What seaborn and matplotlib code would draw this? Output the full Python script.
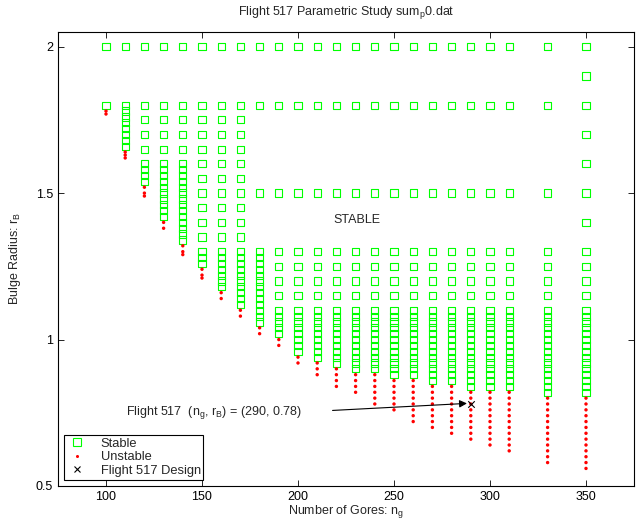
import matplotlib
matplotlib.use("Agg")
import matplotlib.pyplot as plt
import seaborn as sns
import pandas as pd
from matplotlib.lines import Line2D
from matplotlib.ticker import FuncFormatter

# ---------------- data ----------------
gores = [100, 110, 120, 130, 140, 150, 160, 170, 180, 190, 200, 210, 220,
         230, 240, 250, 260, 270, 280, 290, 300, 310, 330, 350]

s100 = [2.0, 1.8]
u100 = [1.78, 1.77]
s110 = [2.0, 1.8, 1.78, 1.76, 1.74, 1.72, 1.70, 1.68, 1.66]
u110 = [1.64, 1.63, 1.62]
s120 = [2.0, 1.8, 1.75, 1.70, 1.65, 1.60, 1.58, 1.56, 1.54]
u120 = [1.52, 1.50, 1.49]
s130 = [2.0, 1.8, 1.75, 1.70, 1.65, 1.60, 1.58, 1.56, 1.54, 1.52, 1.50,
        1.48, 1.46, 1.44, 1.42]
u130 = [1.40, 1.38]
s140 = [2.0, 1.8, 1.75, 1.70, 1.65, 1.60, 1.58, 1.56, 1.54, 1.52, 1.50,
        1.48, 1.46, 1.44, 1.42, 1.40, 1.38, 1.36, 1.34]
u140 = [1.32, 1.30, 1.29]
s150 = [2.0, 1.8, 1.75, 1.70, 1.65, 1.60, 1.55, 1.50, 1.45, 1.40, 1.35,
        1.30, 1.28, 1.26]
u150 = [1.24, 1.22, 1.21]
s160 = [2.0, 1.8, 1.75, 1.70, 1.65, 1.60, 1.55, 1.50, 1.45, 1.40, 1.35,
        1.30, 1.28, 1.26, 1.24, 1.22, 1.20, 1.18]
u160 = [1.16, 1.14]
s170 = [2.0, 1.8, 1.75, 1.70, 1.65, 1.60, 1.55, 1.50, 1.45, 1.40, 1.35,
        1.30, 1.28, 1.26, 1.24, 1.22, 1.20, 1.18, 1.16, 1.14, 1.12]
u170 = [1.10, 1.08]
s180 = [2.0, 1.8, 1.50, 1.30, 1.28, 1.26, 1.24, 1.22, 1.20, 1.18, 1.16,
        1.14, 1.12, 1.10, 1.08, 1.06]
u180 = [1.04, 1.02]
s190 = [2.0, 1.8, 1.50, 1.30, 1.25, 1.20, 1.15, 1.10, 1.08, 1.06, 1.04, 1.02]
u190 = [1.00, 0.98]
s200 = [2.0, 1.8, 1.50, 1.30, 1.25, 1.20, 1.15, 1.10, 1.08, 1.06, 1.04,
        1.02, 1.00, 0.98, 0.96]
u200 = [0.94, 0.92]
s210 = [2.0, 1.8, 1.50, 1.30, 1.25, 1.20, 1.15, 1.10, 1.08, 1.06, 1.04,
        1.02, 1.00, 0.98, 0.96, 0.94]
u210 = [0.92, 0.90, 0.88]
s220 = [2.0, 1.8, 1.50, 1.30, 1.25, 1.20, 1.15, 1.10, 1.08, 1.06, 1.04,
        1.02, 1.00, 0.98, 0.96, 0.94, 0.92]
u220 = [0.90, 0.88, 0.86, 0.84]
s230 = [2.0, 1.8, 1.50, 1.30, 1.25, 1.20, 1.15, 1.10, 1.08, 1.06, 1.04,
        1.02, 1.00, 0.98, 0.96, 0.94, 0.92, 0.90]
u230 = [0.88, 0.86, 0.84, 0.82]
s240 = [2.0, 1.8, 1.50, 1.30, 1.25, 1.20, 1.15, 1.10, 1.08, 1.06, 1.04,
        1.02, 1.00, 0.98, 0.96, 0.94, 0.92, 0.90]
u240 = [0.88, 0.86, 0.84, 0.82, 0.80, 0.78]
s250 = [2.0, 1.8, 1.50, 1.30, 1.25, 1.20, 1.15, 1.10, 1.08, 1.06, 1.04,
        1.02, 1.00, 0.98, 0.96, 0.94, 0.92, 0.90, 0.88]
u250 = [0.86, 0.84, 0.82, 0.80, 0.78, 0.76]
s260 = [2.0, 1.8, 1.50, 1.30, 1.25, 1.20, 1.15, 1.10, 1.08, 1.06, 1.04,
        1.02, 1.00, 0.98, 0.96, 0.94, 0.92, 0.90, 0.88]
u260 = [0.86, 0.84, 0.82, 0.80, 0.78, 0.76, 0.74, 0.72]
s270 = [2.0, 1.8, 1.50, 1.30, 1.25, 1.20, 1.15, 1.10, 1.08, 1.06, 1.04,
        1.02, 1.00, 0.98, 0.96, 0.94, 0.92, 0.90, 0.88, 0.86]
u270 = [0.84, 0.82, 0.80, 0.78, 0.76, 0.74, 0.72, 0.70]
s280 = [2.0, 1.8, 1.50, 1.30, 1.25, 1.20, 1.15, 1.10, 1.08, 1.06, 1.04,
        1.02, 1.00, 0.98, 0.96, 0.94, 0.92, 0.90, 0.88, 0.86]
u280 = [0.84, 0.82, 0.80, 0.78, 0.76, 0.74, 0.72, 0.70, 0.68]
s290 = [2.0, 1.8, 1.50, 1.30, 1.25, 1.20, 1.15, 1.10, 1.08, 1.06, 1.04,
        1.02, 1.00, 0.98, 0.96, 0.94, 0.92, 0.90, 0.88, 0.86, 0.84]
u290 = [0.82, 0.80, 0.78, 0.76, 0.74, 0.72, 0.70, 0.68, 0.66]
s300 = [2.0, 1.8, 1.50, 1.30, 1.25, 1.20, 1.15, 1.10, 1.08, 1.06, 1.04,
        1.02, 1.00, 0.98, 0.96, 0.94, 0.92, 0.90, 0.88, 0.86, 0.84]
u300 = [0.82, 0.80, 0.78, 0.76, 0.74, 0.72, 0.70, 0.68, 0.66, 0.64]
s310 = [2.0, 1.8, 1.50, 1.30, 1.25, 1.20, 1.15, 1.10, 1.08, 1.06, 1.04,
        1.02, 1.00, 0.98, 0.96, 0.94, 0.92, 0.90, 0.88, 0.86, 0.84]
u310 = [0.82, 0.80, 0.78, 0.76, 0.74, 0.72, 0.70, 0.68, 0.66, 0.64, 0.62]
s330 = [2.0, 1.8, 1.50, 1.30, 1.25, 1.20, 1.15, 1.10, 1.08, 1.06, 1.04,
        1.02, 1.00, 0.98, 0.96, 0.94, 0.92, 0.90, 0.88, 0.86, 0.84, 0.82]
u330 = [0.80, 0.78, 0.76, 0.74, 0.72, 0.70, 0.68, 0.66, 0.64, 0.62, 0.60,
        0.58]
s350 = [2.0, 1.9, 1.8, 1.7, 1.6, 1.50, 1.4, 1.30, 1.25, 1.20, 1.15, 1.10,
        1.08, 1.06, 1.04, 1.02, 1.00, 0.98, 0.96, 0.94, 0.92, 0.90, 0.88,
        0.86, 0.84, 0.82]
u350 = [0.80, 0.78, 0.76, 0.74, 0.72, 0.70, 0.68, 0.66, 0.64, 0.62, 0.60,
        0.58, 0.56]

stable_cols = [s100, s110, s120, s130, s140, s150, s160, s170, s180, s190,
               s200, s210, s220, s230, s240, s250, s260, s270, s280, s290,
               s300, s310, s330, s350]
unstable_cols = [u100, u110, u120, u130, u140, u150, u160, u170, u180, u190,
                 u200, u210, u220, u230, u240, u250, u260, u270, u280, u290,
                 u300, u310, u330, u350]

design_ng = [290]
design_rb = [0.78]

x_ticks = [100, 150, 200, 250, 300, 350]
y_ticks = [0.5, 1.0, 1.5, 2.0]

title_text = "Flight 517 Parametric Study sum$\\mathregular{_p}$0.dat"
xlabel_text = "Number of Gores: n$\\mathregular{_g}$"
ylabel_text = "Bulge Radius: r$\\mathregular{_B}$"
stable_label = "STABLE"
annot_text = "Flight 517  (n$\\mathregular{_g}$, r$\\mathregular{_B}$) = (290, 0.78)"

# ---------------- tables ----------------
stable_df = pd.DataFrame(
    [(g, r) for g, col in zip(gores, stable_cols) for r in col],
    columns=["ng", "rB"])
unstable_df = pd.DataFrame(
    [(g, r) for g, col in zip(gores, unstable_cols) for r in col],
    columns=["ng", "rB"])
design_df = pd.DataFrame({"ng": design_ng, "rB": design_rb})

# ---------------- style ----------------
sns.set_style("ticks")
plt.rcParams["font.family"] = ["Liberation Sans", "DejaVu Sans"]
plt.rcParams["mathtext.fontset"] = "custom"
plt.rcParams["mathtext.rm"] = "Liberation Sans"
plt.rcParams["font.size"] = 9
plt.rcParams["axes.linewidth"] = 0.8
plt.rcParams["axes.edgecolor"] = "black"

fig = plt.figure(figsize=(6.39, 5.27), dpi=100)
ax = fig.add_axes([58 / 639, 41 / 527, 576 / 639, 454 / 527])

green = "#00FF00"
sns.scatterplot(data=stable_df, x="ng", y="rB", ax=ax, marker="s", s=27,
                facecolors="none", edgecolor=green, linewidth=0.8,
                legend=False, zorder=3)
sns.scatterplot(data=unstable_df, x="ng", y="rB", ax=ax, marker="o", s=6,
                color="red", edgecolor="none", linewidth=0, legend=False,
                zorder=3)
sns.scatterplot(data=design_df, x="ng", y="rB", ax=ax, marker="x", s=22,
                color="black", linewidth=0.8, legend=False, zorder=4)

ax.set_xlim(75, 375)
ax.set_ylim(0.5, 2.05)
ax.set_xticks(x_ticks)
ax.set_yticks(y_ticks)
ax.yaxis.set_major_formatter(FuncFormatter(lambda v, p: f"{v:g}"))
ax.tick_params(direction="in", length=4, width=0.6, top=True, right=True,
               labelsize=9, colors="black")
for sp in ax.spines.values():
    sp.set_visible(True)
    sp.set_color("black")

ax.set_xlabel(xlabel_text, fontsize=9, labelpad=0)
ax.set_ylabel(ylabel_text, fontsize=9, labelpad=9)
ax.set_title(title_text, fontsize=9, pad=12)

ax.text(218.5, 1.407, stable_label, fontsize=9, ha="left", va="center")
ax.text(110.5, 0.752, annot_text, fontsize=9, ha="left", va="center")
ax.annotate("", xy=(288, 0.782), xytext=(218, 0.758),
            arrowprops=dict(arrowstyle="-|>", color="black", lw=0.8,
                            mutation_scale=11, shrinkA=0, shrinkB=0))

handles = [
    Line2D([], [], ls="none", marker="s", markersize=5.2, markerfacecolor="none",
           markeredgecolor=green, markeredgewidth=0.8, label="Stable"),
    Line2D([], [], ls="none", marker="o", markersize=2.2, color="red",
           markeredgewidth=0, label="Unstable"),
    Line2D([], [], ls="none", marker="x", markersize=4.5, color="black",
           markeredgewidth=0.8, label="Flight 517 Design"),
]
leg = ax.legend(handles=handles, loc="lower left", fontsize=9.3,
                fancybox=False, framealpha=1, edgecolor="black",
                borderaxespad=0.5, handlelength=1.6, handletextpad=1.0,
                borderpad=0.2, labelspacing=0.12)
leg.get_frame().set_linewidth(0.8)

fig.savefig("out.png", dpi=100)
